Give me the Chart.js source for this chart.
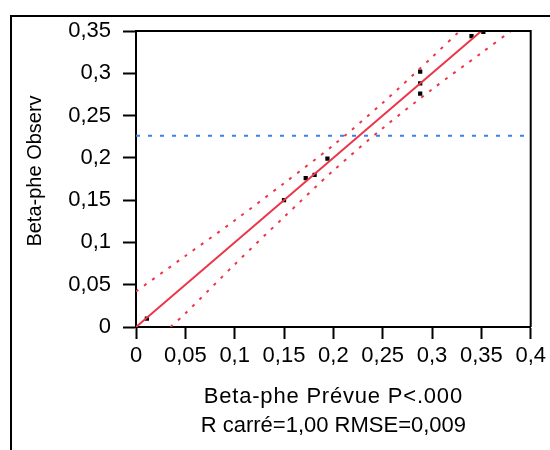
<!DOCTYPE html>
<html>
<head>
<meta charset="utf-8">
<script src="https://cdn.jsdelivr.net/npm/chart.js@4/dist/chart.umd.min.js"></script>
<style>
  html, body { margin: 0; padding: 0; background: #ffffff; }
  #wrap { width: 550px; height: 450px; position: relative; }
</style>
</head>
<body>
<div id="wrap"><canvas id="c" width="550" height="450"></canvas></div>
<script>
// Observed vs predicted Beta-phe
const predicted = [0.011, 0.150, 0.172, 0.181, 0.194, 0.288, 0.288, 0.288, 0.340, 0.352];
const observed  = [0.010, 0.150, 0.176, 0.180, 0.199, 0.302, 0.288, 0.276, 0.344, 0.349];

// Fit line and its confidence curves
const fitX = [0, 0.35];
const fitY = [0, 0.35];
const upperBandX = [0, 0.05, 0.10, 0.15, 0.20, 0.25, 0.30, 0.328];
const upperBandY = [0.042, 0.084, 0.126, 0.170, 0.215, 0.265, 0.319, 0.35];
const lowerBandX = [0.035, 0.05, 0.10, 0.15, 0.20, 0.25, 0.30, 0.35, 0.38];
const lowerBandY = [0, 0.016, 0.074, 0.130, 0.185, 0.235, 0.281, 0.324, 0.35];

// Mean of observed values
const meanX = [0, 0.4];
const meanY = [0.226, 0.226];

// Axis ticks
const xTickValues = [0, 0.05, 0.1, 0.15, 0.2, 0.25, 0.3, 0.35, 0.4];
const xTickLabels = ['0', '0,05', '0,1', '0,15', '0,2', '0,25', '0,3', '0,35', '0,4'];
const yTickValues = [0, 0.05, 0.1, 0.15, 0.2, 0.25, 0.3, 0.35];
const yTickLabels = ['0', '0,05', '0,1', '0,15', '0,2', '0,25', '0,3', '0,35'];

const xTitleLines = ['Beta-phe Prévue P<.000', 'R carré=1,00 RMSE=0,009'];
const yTitle = 'Beta-phe Observ';

const FONT = '"Liberation Sans", Arial, sans-serif';
const RED = '#ec3548';
const BLUE = '#3d7ff0';

const pairs = (xs, ys) => xs.map((x, i) => ({ x: x, y: ys[i] }));

const nearestLabel = (values, labels) => (v) => {
  for (let i = 0; i < values.length; i++) {
    if (Math.abs(values[i] - v) < 1e-6) return labels[i];
  }
  return '';
};

const framePlugin = {
  id: 'frame',
  beforeDraw(chart) {
    const ctx = chart.ctx;
    ctx.save();
    ctx.fillStyle = '#ffffff';
    ctx.fillRect(0, 0, chart.width, chart.height);
    // outer panel border (left and top)
    ctx.strokeStyle = '#000000';
    ctx.lineWidth = 2;
    ctx.beginPath();
    ctx.moveTo(11, chart.height + 5);
    ctx.lineTo(11, 16);
    ctx.lineTo(chart.width + 5, 16);
    ctx.stroke();
    ctx.restore();
  },
  afterDraw(chart) {
    const ctx = chart.ctx;
    const a = chart.chartArea;
    ctx.save();
    ctx.strokeStyle = '#000000';
    ctx.lineWidth = 2;
    ctx.beginPath();
    ctx.moveTo(a.left, a.top);
    ctx.lineTo(a.right, a.top);
    ctx.lineTo(a.right, a.bottom);
    ctx.stroke();

    ctx.fillStyle = '#000000';
    ctx.textAlign = 'center';
    ctx.textBaseline = 'middle';
    const cx = (a.left + a.right) / 2;
    ctx.font = '22px ' + FONT;
    ctx.letterSpacing = '0.8px';
    ctx.fillText(xTitleLines[0], cx, 397);
    ctx.letterSpacing = '0px';
    ctx.fillText(xTitleLines[1], cx, 426);

    ctx.font = '20px ' + FONT;
    ctx.translate(35, 171);
    ctx.rotate(-Math.PI / 2);
    ctx.fillText(yTitle, 0, 0);
    ctx.restore();
  }
};

new Chart(document.getElementById('c'), {
  type: 'scatter',
  data: {
    datasets: [
      {
        label: 'mean',
        data: pairs(meanX, meanY),
        showLine: true,
        borderColor: BLUE,
        borderWidth: 2,
        borderDash: [4, 8],
        pointRadius: 0
      },
      {
        label: 'upper',
        data: pairs(upperBandX, upperBandY),
        showLine: true,
        tension: 0.3,
        borderColor: RED,
        borderWidth: 2,
        borderDash: [3, 7],
        pointRadius: 0
      },
      {
        label: 'lower',
        data: pairs(lowerBandX, lowerBandY),
        showLine: true,
        tension: 0.3,
        borderColor: RED,
        borderWidth: 2,
        borderDash: [3, 7],
        pointRadius: 0
      },
      {
        label: 'fit',
        data: pairs(fitX, fitY),
        showLine: true,
        borderColor: RED,
        borderWidth: 2,
        pointRadius: 0
      },
      {
        label: 'Beta-phe',
        data: pairs(predicted, observed),
        pointStyle: 'rect',
        pointRadius: 3,
        pointBorderWidth: 0,
        backgroundColor: '#000000',
        borderColor: '#000000'
      }
    ]
  },
  options: {
    responsive: false,
    animation: false,
    layout: { padding: { top: 31, right: 17, left: 0, bottom: 0 } },
    plugins: {
      legend: { display: false },
      tooltip: { enabled: false }
    },
    scales: {
      x: {
        type: 'linear',
        min: 0,
        max: 0.4,
        afterFit(scale) { scale.height = 123; },
        afterBuildTicks(scale) { scale.ticks = xTickValues.map(v => ({ value: v })); },
        border: { display: true, color: '#000000', width: 2 },
        grid: {
          drawOnChartArea: false,
          drawTicks: true,
          tickLength: 12,
          tickColor: '#000000',
          tickWidth: 2
        },
        ticks: {
          color: '#000000',
          padding: 4,
          maxRotation: 0,
          autoSkip: false,
          font: { family: FONT, size: 22 },
          callback: nearestLabel(xTickValues, xTickLabels)
        }
      },
      y: {
        type: 'linear',
        min: 0,
        max: 0.35,
        afterFit(scale) { scale.width = 136; },
        afterBuildTicks(scale) { scale.ticks = yTickValues.map(v => ({ value: v })); },
        border: { display: true, color: '#000000', width: 2 },
        grid: {
          drawOnChartArea: false,
          drawTicks: true,
          tickLength: 13,
          tickColor: '#000000',
          tickWidth: 2
        },
        ticks: {
          color: '#000000',
          padding: 12,
          autoSkip: false,
          font: { family: FONT, size: 22 },
          callback: nearestLabel(yTickValues, yTickLabels)
        }
      }
    }
  },
  plugins: [framePlugin]
});
</script>
</body>
</html>
